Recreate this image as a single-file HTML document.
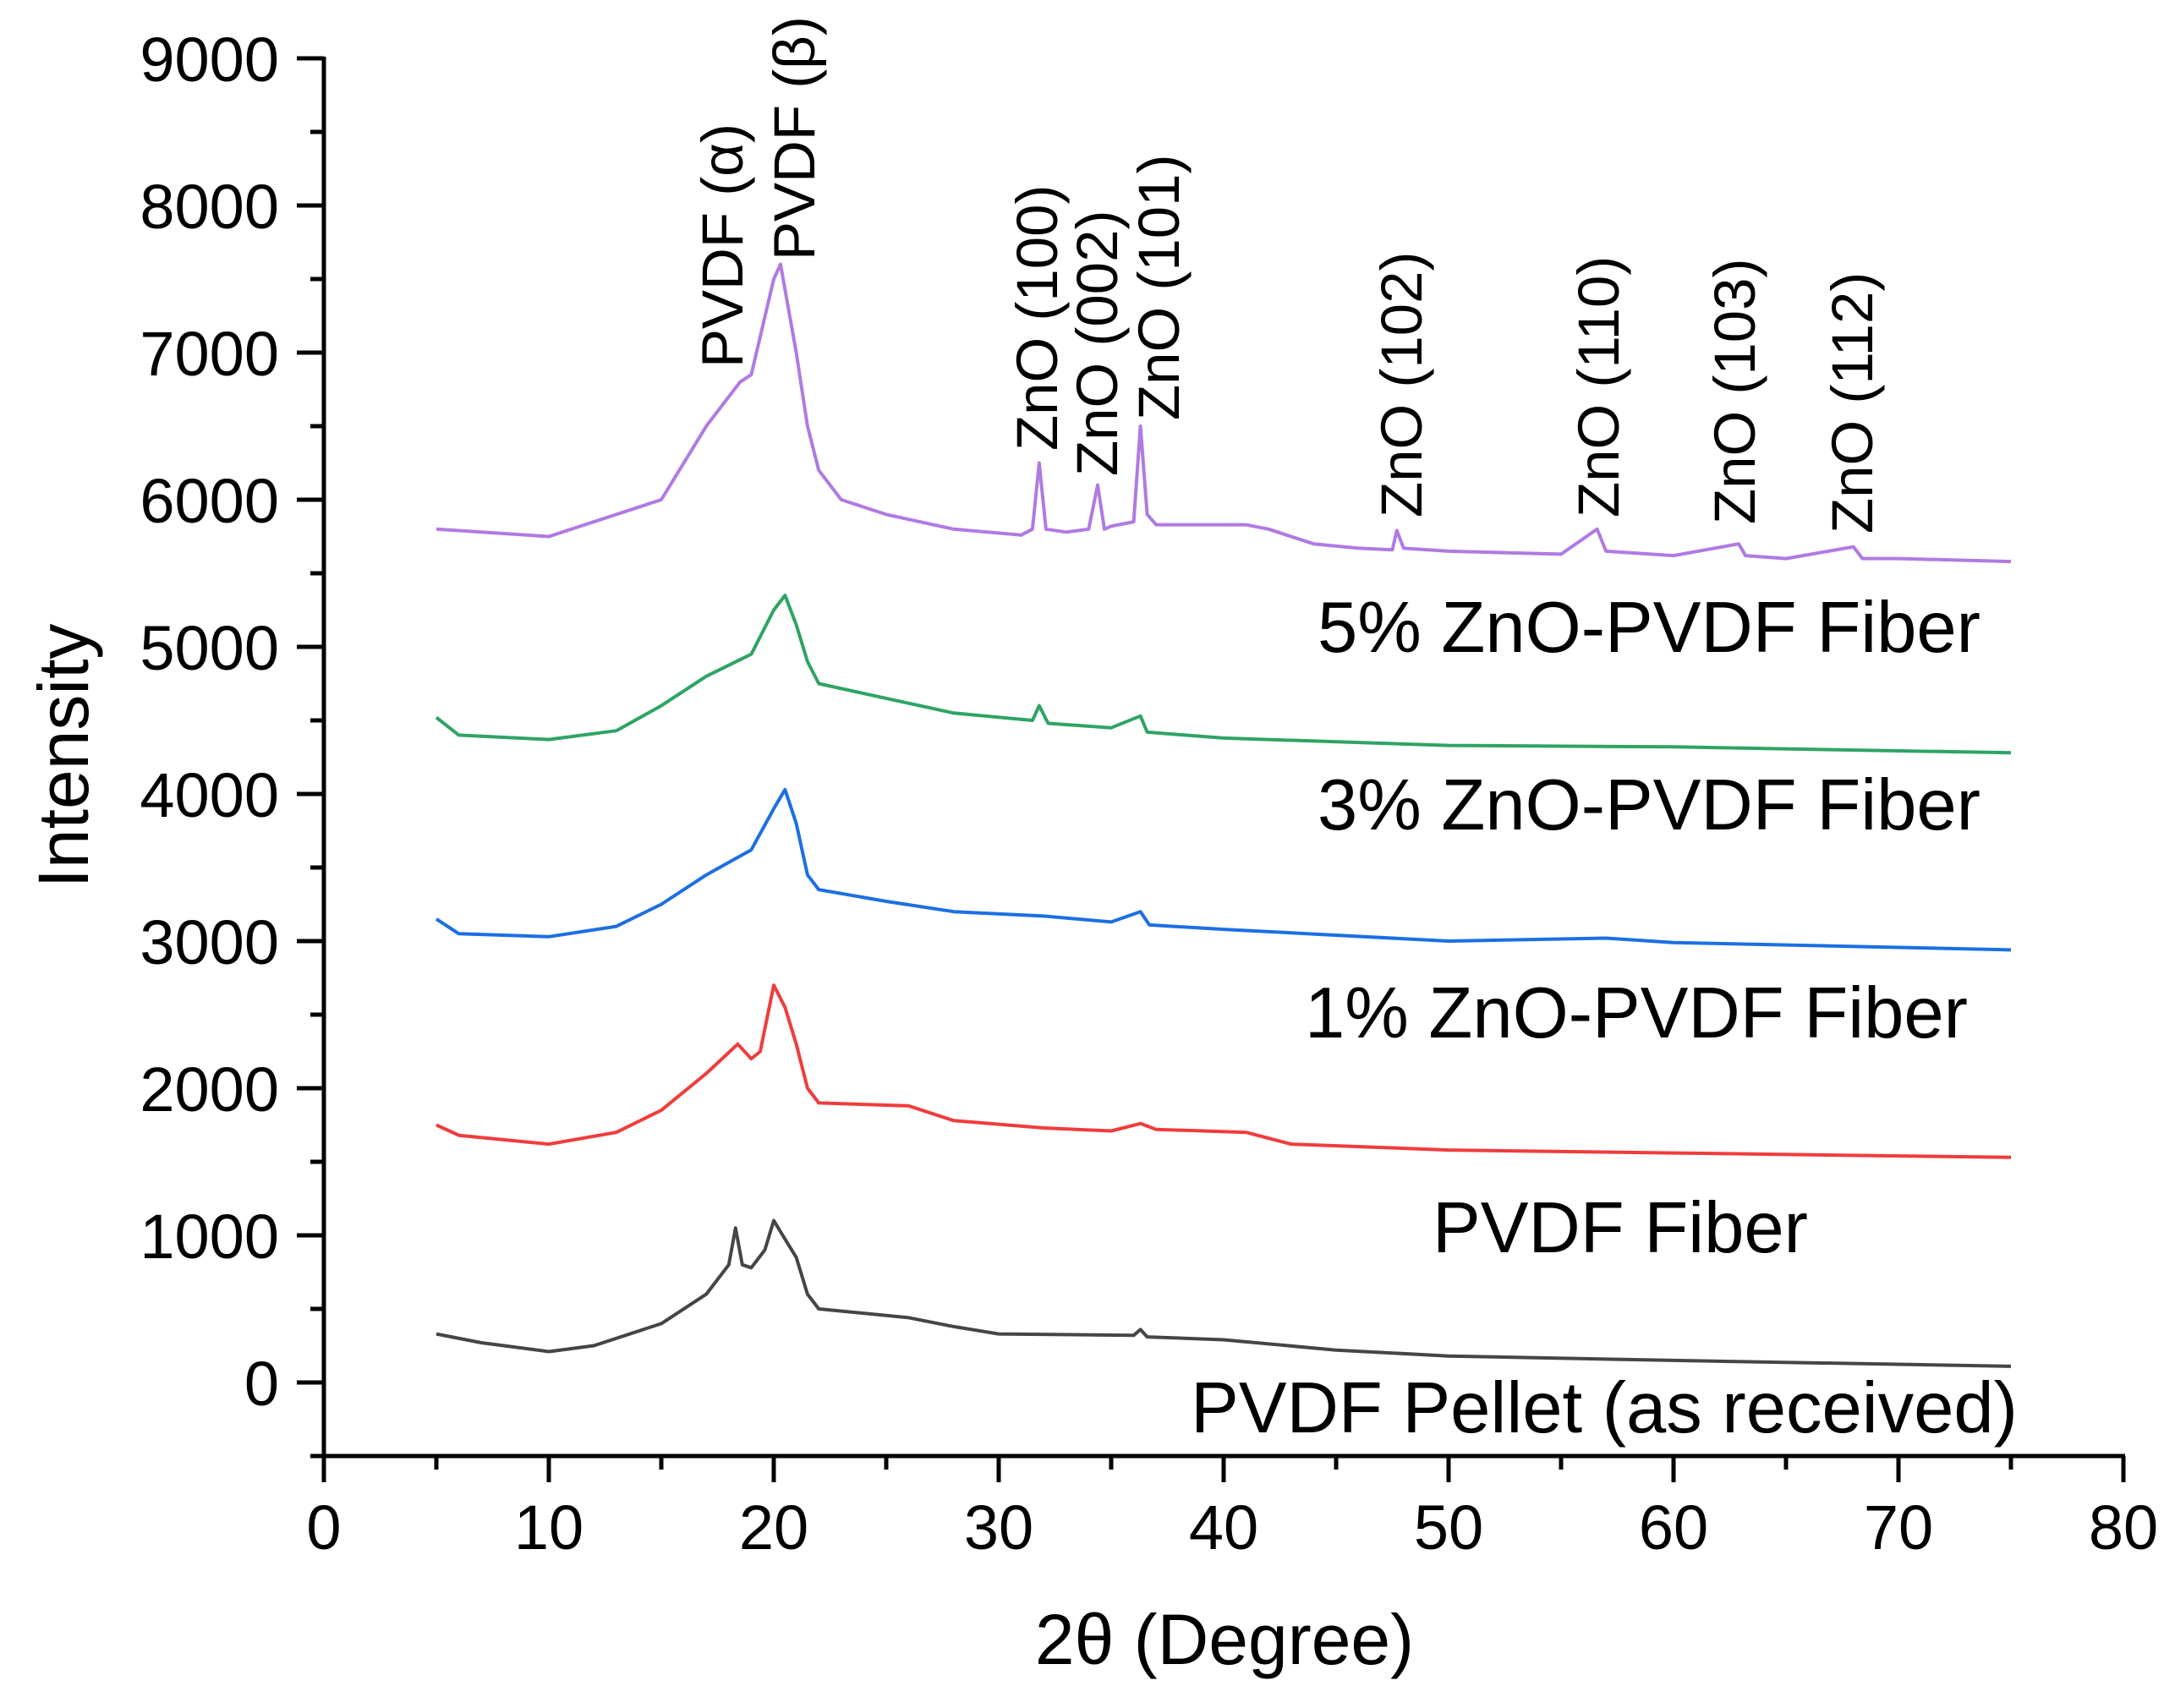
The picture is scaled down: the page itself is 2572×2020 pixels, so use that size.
<!DOCTYPE html>
<html><head><meta charset="utf-8"><title>XRD patterns</title>
<style>html,body{margin:0;padding:0;background:#fff}svg{display:block;font-family:"Liberation Sans",Arial,sans-serif}</style>
</head><body>
<svg id="chart" width="2572" height="2020" viewBox="0 0 2572 2020" xmlns="http://www.w3.org/2000/svg">
<g id="axes"></g>
<g id="series"></g>
<g id="labels"></g>
</svg>
<script>
// ---- data ----
const xTicks = [0,10,20,30,40,50,60,70,80];
const yTicks = [0,1000,2000,3000,4000,5000,6000,7000,8000,9000];
const pelletX = [5,7,10,12,15,17,18,18.3,18.6,19,19.6,20,20.4,21,21.5,22,26,28,30,36,36.3,36.6,40,45,50,60,75];
const pelletY = [330,270,210,250,400,600,800,1050,800,780,900,1100,1000,850,600,500,440,380,330,320,360,310,290,220,180,150,110];
const fiberX = [5,6,10,13,15,17,18.4,19,19.4,20,20.5,21,21.5,22,26,28,32,35,36.3,37,41,43,50,60,75];
const fiberY = [1750,1680,1620,1700,1850,2100,2300,2200,2250,2700,2550,2300,2000,1900,1880,1780,1730,1710,1760,1720,1700,1620,1580,1560,1530];
const zn1X = [5,6,10,13,15,17,19,20,20.5,21,21.5,22,25,28,32,35,36.3,36.7,40,50,57,60,75];
const zn1Y = [3150,3050,3030,3100,3250,3450,3620,3900,4030,3800,3450,3350,3270,3200,3170,3130,3200,3110,3080,3000,3020,2990,2940];
const zn3X = [5,6,10,13,15,17,19,20,20.5,21,21.5,22,25,28,31.5,31.8,32.2,35,36.3,36.6,40,50,60,75];
const zn3Y = [4520,4400,4370,4430,4600,4800,4950,5250,5350,5150,4900,4750,4650,4550,4500,4600,4480,4450,4530,4420,4380,4330,4320,4280];
const zn5X = [5,10,15,17,18.5,19,20,20.3,21,21.5,22,23,25,28,31,31.5,31.8,32.1,33,34,34.4,34.7,35,36,36.3,36.6,37,39,41,42,44,46,47.5,47.7,48,50,55,56.6,57,60,62.9,63.2,65,68,68.4,70,75];
const zn5Y = [5800,5750,6000,6500,6800,6850,7500,7600,7000,6500,6200,6000,5900,5800,5760,5800,6250,5800,5780,5800,6100,5800,5820,5850,6500,5900,5830,5830,5830,5800,5700,5670,5660,5790,5670,5650,5630,5800,5650,5620,5700,5620,5600,5680,5600,5600,5580];
const seriesNames = ["pellet","fiber","zno-1","zno-3","zno-5"];
const seriesColors = ["#454545","#f03c3c","#1c6fe3","#2ea464","#b07ae2"];

// ---- scales ----
const X0=383, X1=2511, Y0=1635, Y9=69;
const sx = v => X0 + (v/80)*(X1-X0);
const sy = v => Y0 - (v/9000)*(Y0-Y9);
const NS="http://www.w3.org/2000/svg";
function mk(tag, attrs, parent){const e=document.createElementNS(NS,tag);for(const k in attrs)e.setAttribute(k,attrs[k]);parent.appendChild(e);return e;}
const axes=document.getElementById('axes'), ser=document.getElementById('series'), lab=document.getElementById('labels');

let e;
e=mk('line',{x1:X0,y1:Y9-2,x2:X0,y2:1724,stroke:'#000','stroke-width':5},axes);


e=mk('line',{x1:X0-2,y1:1722,x2:X1+2,y2:1722,stroke:'#000','stroke-width':5},axes);



for(let v=0; v<=80; v+=5){
  const major = v%10===0;
  e=mk('line',{x1:sx(v),y1:1722,x2:sx(v),y2:major?1753:1738,stroke:'#000','stroke-width':5},axes);
  
  
}
xTicks.forEach(v=>{
  e=mk('text',{x:sx(v),y:1832,'font-size':74,'text-anchor':'middle',fill:'#000'},axes);
  e.textContent=v;
  
  
});
for(let v=-500; v<=9000; v+=500){
  const major = v%1000===0;
  e=mk('line',{x1:major?351:367,y1:sy(v),x2:X0,y2:sy(v),stroke:'#000','stroke-width':5},axes);
  
  
}
yTicks.forEach(v=>{
  e=mk('text',{x:330,y:sy(v)+27,'font-size':74,'text-anchor':'end',fill:'#000'},axes);
  e.textContent=v;
  
  
});
e=mk('text',{x:0,y:0,'font-size':84,'text-anchor':'middle',fill:'#000',transform:'translate(104,894) rotate(-90)'},axes);
e.textContent='Intensity';


e=mk('text',{x:1448,y:1968,'font-size':84,'text-anchor':'middle',fill:'#000'},axes);
e.textContent='2θ (Degree)';



const allX=[pelletX,fiberX,zn1X,zn3X,zn5X], allY=[pelletY,fiberY,zn1Y,zn3Y,zn5Y];
allX.forEach((xs,i)=>{
  const d = xs.map((x,j)=>(j?'L':'M')+sx(x).toFixed(1)+','+sy(allY[i][j]).toFixed(1)).join(' ');
  const p=mk('path',{d:d,fill:'none',stroke:seriesColors[i],'stroke-width':4,'stroke-linejoin':'round'},ser);
  
  
});

const sLabels=[
 ['5% ZnO-PVDF Fiber',2342,771,'end','label-zno-5'],
 ['3% ZnO-PVDF Fiber',2342,981,'end','label-zno-3'],
 ['1% ZnO-PVDF Fiber',2327,1227,'end','label-zno-1'],
 ['PVDF Fiber',1916,1481,'middle','label-pvdf-fiber'],
 ['PVDF Pellet (as received)',2386,1694,'end','label-pvdf-pellet']];
sLabels.forEach(s=>{
  const t=mk('text',{x:s[1],y:s[2],'font-size':85,'text-anchor':s[3],fill:'#000'},lab);
  t.textContent=s[0];
  
  
});
const peaks=[
 ['PVDF (α)',853,435,'peak-label-alpha'],
 ['PVDF (β)',938,308,'peak-label-beta'],
 ['ZnO (100)',1225,533,'peak-label-100'],
 ['ZnO (002)',1296,563,'peak-label-002'],
 ['ZnO (101)',1369,497,'peak-label-101'],
 ['ZnO (102)',1656,612,'peak-label-102'],
 ['ZnO (110)',1889,612,'peak-label-110'],
 ['ZnO (103)',2050,620,'peak-label-103'],
 ['ZnO (112)',2189,631,'peak-label-112']];
peaks.forEach(p=>{
  const t=mk('text',{x:0,y:0,'font-size':69,fill:'#000',transform:'translate('+(p[1]+25)+','+p[2]+') rotate(-90)'},lab);
  t.textContent=p[0];
  
  
});
</script>
</body></html>
